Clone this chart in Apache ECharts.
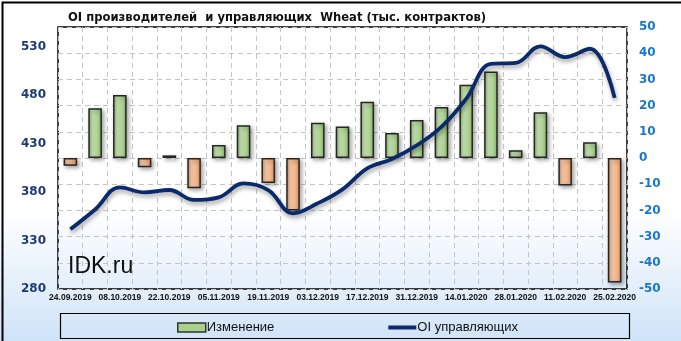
<!DOCTYPE html>
<html>
<head>
<meta charset="utf-8">
<script src="https://cdn.jsdelivr.net/npm/echarts@6/dist/echarts.min.js"></script>
<style>
html,body{margin:0;padding:0;background:#fff;}
#c{width:681px;height:341px;}
</style>
</head>
<body>
<div id="c"></div>
<script>
var categories = ['24.09.2019','01.10.2019','08.10.2019','15.10.2019','22.10.2019','29.10.2019','05.11.2019','12.11.2019','19.11.2019','26.11.2019','03.12.2019','10.12.2019','17.12.2019','24.12.2019','31.12.2019','07.01.2020','14.01.2020','21.01.2020','28.01.2020','04.02.2020','11.02.2020','18.02.2020','25.02.2020'];
var changeValues = [-3, 19, 24, -3.5, 1, -11.5, 5, 12.5, -9.5, -20, 13.5, 12, 21.5, 9.5, 14.5, 19.5, 28, 33, 3, 17.5, -10.5, 6, -47.5];
var oiValues = [341.6, 362, 384.8, 379.6, 382, 371.8, 374.5, 388.9, 382, 358, 368.3, 382.7, 404.3, 414, 428, 447, 476, 512, 513, 530, 519, 527.6, 477];
var leftTicks = {min: 280, max: 550, interval: 50};
var rightTicks = {min: -50, max: 50, interval: 10};
var seriesNames = ['Изменение', 'OI управляющих'];
var titleText = 'OI производителей  и управляющих  Wheat (тыс. контрактов)';

function grad(dark, mid, light) {
  return new echarts.graphic.LinearGradient(0, 0, 1, 0, [
    {offset: 0, color: dark},
    {offset: 0.3, color: light},
    {offset: 0.7, color: mid},
    {offset: 1, color: dark}
  ]);
}
var greenFill = grad('#86b368', '#a9d18e', '#c9e4b6');
var orangeFill = grad('#d88c5a', '#f4b183', '#f9cfb0');

var barData = changeValues.map(function (v) {
  return {
    value: v,
    itemStyle: {
      color: v >= 0 ? greenFill : orangeFill,
      borderColor: '#262626',
      borderWidth: 1.5,
      shadowColor: 'rgba(0,0,0,0.35)',
      shadowBlur: 4,
      shadowOffsetX: 2,
      shadowOffsetY: 2
    }
  };
});

var chart = echarts.init(document.getElementById('c'), null, {renderer: 'canvas'});
chart.setOption({
  animation: false,
  backgroundColor: new echarts.graphic.LinearGradient(0, 0, 0, 1, [
    {offset: 0, color: '#ffffff'},
    {offset: 0.62, color: '#ffffff'},
    {offset: 1, color: '#cfe3f8'}
  ]),
  title: {
    text: titleText,
    left: 63,
    top: 7,
    textStyle: {fontFamily: 'DejaVu Sans', fontWeight: 'bold', fontSize: 11.6, color: '#111'}
  },
  graphic: [
    {type: 'rect', left: 0, top: 0, shape: {width: 680, height: 340}, style: {fill: 'none', stroke: '#000', lineWidth: 2}, silent: true, z: 100},
    {type: 'rect', left: 58, top: 311, shape: {width: 569, height: 25}, style: {fill: 'none', stroke: '#000', lineWidth: 1.2}, silent: true},
    {type: 'text', left: 68, top: 255, style: {text: 'IDK.ru', font: '23px "Liberation Sans"', fill: '#111'}, z: 50}
  ],
  legend: {
    left: 172,
    top: 316,
    itemGap: 112,
    itemWidth: 28,
    itemHeight: 9,
    textStyle: {fontFamily: 'Liberation Sans', fontSize: 13, color: '#111', padding: [0, 0, 0, -4]},
    data: [
      {name: seriesNames[0], icon: 'rect', itemStyle: {color: '#a9d18e', borderColor: '#333', borderWidth: 1.5}},
      {name: seriesNames[1], itemStyle: {opacity: 0}, lineStyle: {width: 4, color: '#0b2a6b'}}
    ]
  },
  grid: {left: 58, right: 54, top: 27, bottom: 52, show: true, borderColor: '#000', borderWidth: 1.5, backgroundColor: 'transparent'},
  xAxis: {
    type: 'category',
    data: categories,
    boundaryGap: true,
    axisLine: {show: false},
    axisTick: {show: false},
    splitLine: {show: true, interval: 0, lineStyle: {color: '#c4c4c4', type: [5, 4], width: 1}},
    axisLabel: {interval: 1, margin: 4, fontFamily: 'Liberation Sans', fontWeight: 'bold', fontSize: 8.5, color: '#111'}
  },
  yAxis: [
    {
      type: 'value',
      min: leftTicks.min, max: leftTicks.max, interval: leftTicks.interval,
      position: 'left',
      axisLine: {show: false}, axisTick: {show: false}, splitLine: {show: false},
      axisLabel: {showMaxLabel: false, margin: 12, fontFamily: 'DejaVu Sans', fontWeight: 'bold', fontSize: 12, color: '#1f3a73'}
    },
    {
      type: 'value',
      min: rightTicks.min, max: rightTicks.max, interval: rightTicks.interval,
      position: 'right',
      axisLine: {show: false}, axisTick: {show: false},
      splitLine: {show: true, lineStyle: {color: '#c4c4c4', type: [5, 4], width: 1}},
      axisLabel: {margin: 12, fontFamily: 'DejaVu Sans', fontWeight: 'bold', fontSize: 12, color: '#1a78c8'}
    }
  ],
  series: [
    {
      name: seriesNames[0],
      type: 'bar',
      yAxisIndex: 1,
      barWidth: '55%',
      data: barData,
      z: 2
    },
    {
      name: seriesNames[1],
      type: 'line',
      yAxisIndex: 0,
      smooth: 0.4,
      symbol: 'none',
      data: oiValues,
      lineStyle: {color: '#0b2a6b', width: 3.8, shadowColor: 'rgba(0,0,0,0.35)', shadowBlur: 4, shadowOffsetY: 3, shadowOffsetX: 1},
      itemStyle: {color: '#0b2a6b'},
      z: 3
    }
  ]
});
</script>
</body>
</html>
